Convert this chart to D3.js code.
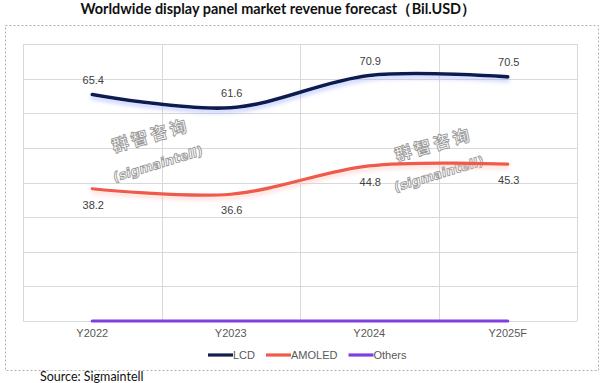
<!DOCTYPE html>
<html><head><meta charset="utf-8">
<script src="https://cdn.jsdelivr.net/npm/d3@7"></script>
<style>body{margin:0;background:#fff}svg{display:block}</style>
</head><body>
<script>
const categories = ["Y2022","Y2023","Y2024","Y2025F"];
const lcd = [65.4, 61.6, 70.9, 70.5];
const amoled = [38.2, 36.6, 44.8, 45.3];
const others = [0, 0, 0, 0];
const seriesNames = ["LCD","AMOLED","Others"];
const yTicks = [0,10,20,30,40,50,60,70,80];
const title = "Worldwide display panel market revenue forecast（Bil.USD）";
const source = "Source: Sigmaintell";

const W=606,H=383;
const svg=d3.select("body").append("svg").attr("width",W).attr("height",H);
const defs=svg.append("defs");
function glow(id,color){
  const f=defs.append("filter").attr("id",id).attr("filterUnits","userSpaceOnUse")
    .attr("x",0).attr("y",0).attr("width",W).attr("height",H);
  f.append("feDropShadow").attr("dx",0).attr("dy",3).attr("stdDeviation",2.2).attr("flood-color",color).attr("flood-opacity",0.55);
}
glow("gLCD","#8c9dff");glow("gAM","#ffb4a8");glow("gOT","#c9b0ff");

// outer dotted border
svg.append("rect").attr("x",5.5).attr("y",25.5).attr("width",593).attr("height",345)
  .attr("fill","none").attr("stroke","#b0b0b0").attr("stroke-dasharray","2,2").attr("stroke-width",1);

svg.append("text").attr("x",278).attr("y",14).attr("text-anchor","middle")
  .attr("font-family","Lato, 'Open Sans', sans-serif").attr("font-weight","bold").attr("font-size",15)
  .attr("fill","#111").attr("textLength",395).attr("lengthAdjust","spacingAndGlyphs").text(title);

const x=d3.scaleBand().domain(categories).range([23,577]);
const y=d3.scaleLinear().domain([0,80]).range([321,44]);

const g=svg.append("g");
g.selectAll(".hg").data(yTicks).join("line").attr("x1",23).attr("x2",577)
  .attr("y1",d=>Math.round(y(d))+0.5).attr("y2",d=>Math.round(y(d))+0.5).attr("stroke","#d9d9d9");
const vx=categories.map(c=>x(c)).concat([x.range()[1]]);
g.selectAll(".vg").data(vx).join("line").attr("y1",44).attr("y2",321)
  .attr("x1",d=>Math.round(d)+0.5).attr("x2",d=>Math.round(d)+0.5).attr("stroke","#d9d9d9");

// watermark
function wm(cx,cy,cx2,cy2){
  const w=svg.append("g").attr("fill","#fff").attr("stroke","#9a9a9a").attr("stroke-width",0.9).attr("font-weight","bold");
  w.append("text").attr("transform",`translate(${cx},${cy}) rotate(-16)`).attr("text-anchor","middle").attr("dominant-baseline","middle")
    .attr("font-family","'Noto Sans CJK SC', sans-serif").attr("font-size",17).attr("letter-spacing",3).text("群智咨询");
  w.append("text").attr("transform",`translate(${cx2},${cy2}) rotate(-17) skewX(-8)`).attr("text-anchor","middle").attr("dominant-baseline","middle")
    .attr("font-family","'DejaVu Sans', sans-serif").attr("font-size",13).attr("letter-spacing",0).text("(sigmaintell)");
}
wm(151,137,158,165);
wm(434,146,439,175);

const line=d3.line().x((d,i)=>x(categories[i])+x.bandwidth()/2).y(d=>y(d)).curve(d3.curveCardinal.tension(0));
const colors={LCD:"#0f1f4f",AMOLED:"#ee5a4c",Others:"#7f3fe0"};
const data={LCD:lcd,AMOLED:amoled,Others:others};
const filt={LCD:"gLCD",AMOLED:"gAM",Others:"gOT"};
["Others","AMOLED","LCD"].forEach(s=>{
  svg.append("path").attr("d",line(data[s])).attr("fill","none").attr("stroke",colors[s])
    .attr("stroke-width",s==="LCD"?3.6:3.2).attr("stroke-linecap","round").attr("filter",s==="Others"?null:`url(#${filt[s]})`);
});

const lab=svg.append("g").attr("font-family","'Liberation Sans', Arial, sans-serif").attr("font-size",11).attr("fill","#404040").attr("text-anchor","middle");
lab.selectAll(".l1").data(lcd).join("text").attr("x",(d,i)=>x(categories[i])+x.bandwidth()/2+1).attr("y",d=>y(d)-11).text(d=>d.toFixed(1));
lab.selectAll(".l2").data(amoled).join("text").attr("x",(d,i)=>x(categories[i])+x.bandwidth()/2+1).attr("y",d=>y(d)+20).text(d=>d.toFixed(1));

const ax=svg.append("g").attr("font-family","'Liberation Sans', Arial, sans-serif").attr("font-size",11).attr("fill","#595959").attr("text-anchor","middle");
ax.selectAll("text").data(categories).join("text").attr("x",d=>x(d)+x.bandwidth()/2).attr("y",337).text(d=>d);

// legend
const leg=svg.append("g").attr("font-family","'Liberation Sans', Arial, sans-serif").attr("font-size",11).attr("fill","#595959");
let lx=208;
seriesNames.forEach(s=>{
  leg.append("line").attr("x1",lx).attr("x2",lx+25).attr("y1",355).attr("y2",355).attr("stroke",colors[s]).attr("stroke-width",3.2);
  const t=leg.append("text").attr("x",lx+25).attr("y",359).text(s);
  lx+=25+t.node().getComputedTextLength()+11;
});

svg.append("text").attr("x",40).attr("y",381).attr("font-family","Lato, 'Open Sans', sans-serif").attr("font-size",12.5)
  .attr("fill","#111").text(source);
</script>
</body></html>
